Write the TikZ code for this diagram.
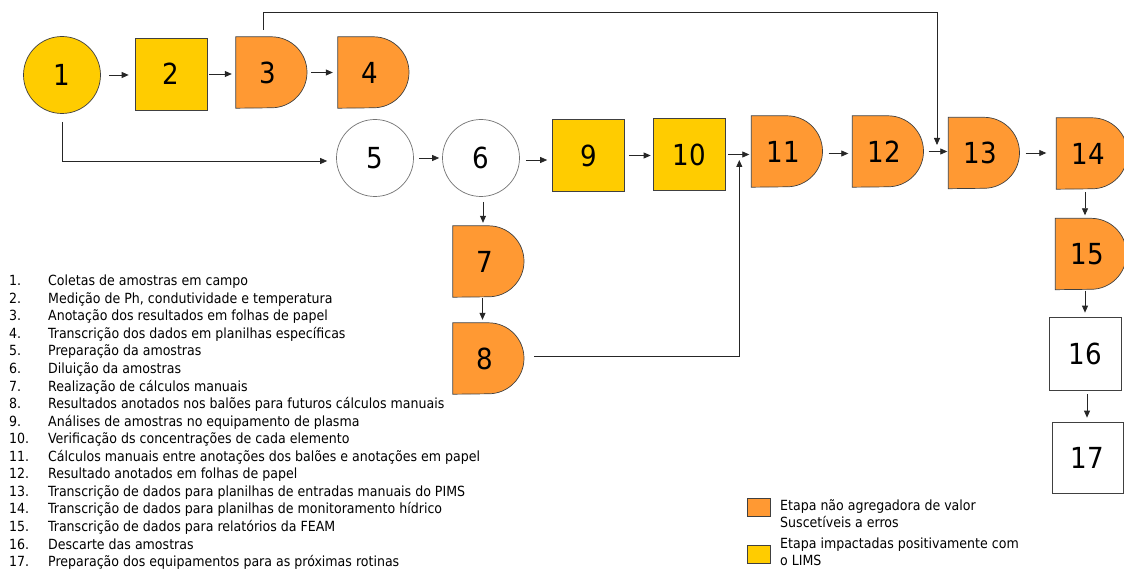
\documentclass[tikz,border=0pt]{standalone}
\usepackage{fontspec}
\setmainfont{DejaVu Sans Condensed}
\usetikzlibrary{arrows.meta,calc}
\definecolor{ylw}{HTML}{FFCC00}
\definecolor{org}{HTML}{FF9933}
\definecolor{edgec}{HTML}{404040}
\newcommand\Dnode[4]{%
  \node[dbox] (#1) at #2 {};
  \filldraw[fill=#3, draw=edgec, line width=0.7pt] (#1.north west) -- (#1.north)
     arc[start angle=90,end angle=-90,radius=35.5pt] -- (#1.south west) -- cycle;
  \node[num, xshift=-4pt] (#1-t) at (#1) {#4};
}
\begin{document}
\begin{tikzpicture}[x=1pt,y=-1pt,
  arr/.style={-{Triangle[length=7pt,width=6pt]}, line width=0.8pt, draw=black!85},
  num/.style={font=\fontsize{29}{30}\selectfont, inner sep=0pt},
  circ/.style={circle, draw=edgec, line width=0.7pt, minimum size=77pt, inner sep=0pt, num},
  sq/.style={rectangle, draw=edgec, line width=0.7pt, minimum width=72pt, minimum height=72pt, inner sep=0pt, num},
  dbox/.style={rectangle, minimum width=71pt, minimum height=71pt, inner sep=0pt},
  item/.style={anchor=west, font=\fontsize{14}{17}\selectfont, inner sep=0pt, text height=10.5pt, text depth=3pt},
  lgbox/.style={rectangle, draw=edgec, line width=0.7pt, minimum width=23pt, minimum height=18pt, inner sep=0pt}
]
\useasboundingbox (0,0) rectangle (1124,572);

% top row
\node[circ, fill=ylw] (n1) at (62,75) {1};
\node[sq, fill=ylw] (n2) at (171,74) {2};
\Dnode{n3}{(271.5,72.5)}{org}{3}
\Dnode{n4}{(373.5,72.5)}{org}{4}

% middle row
\node[circ, draw=black!55] (n5) at (375,158) {5};
\node[circ, draw=black!55] (n6) at (481,158) {6};
\node[sq, fill=ylw] (n9) at (588.5,155.5) {9};
\node[sq, fill=ylw] (n10) at (689,154.5) {10};
\Dnode{n11}{(787,151.5)}{org}{11}
\Dnode{n12}{(888,151.5)}{org}{12}
\Dnode{n13}{(984,153)}{org}{13}
\Dnode{n14}{(1092,153.5)}{org}{14}
\Dnode{n15}{(1091,254)}{org}{15}
\Dnode{n7}{(488.5,261.5)}{org}{7}
\Dnode{n8}{(488.5,358.5)}{org}{8}
\node[sq, minimum height=73pt] (n16) at (1085,353.5) {16};
\node[sq, minimum width=71pt, minimum height=71pt] (n17) at (1087.5,457.5) {17};

% arrows
\draw[arr, shorten <=8pt, shorten >=6pt] (n1.east) -- (n1.east -| n2.west);
\draw[arr, shorten <=2pt, shorten >=4pt] (n2.east) -- (n2.east -| n3.west);
\draw[arr, shorten <=4pt, shorten >=5pt] (n3.east) -- (n3.east -| n4.west);
\draw[arr, shorten <=5pt, shorten >=3pt] (n5.east) -- (n5.east -| n6.west);
\draw[arr, shorten <=6pt, shorten >=5pt] ([yshift=-2pt]n6.east) -- ([yshift=-2pt]n6.east -| n9.west);
\draw[arr, shorten <=4pt, shorten >=2pt] (n9.east) -- (n9.east -| n10.west);
\draw[arr, shorten <=3pt, shorten >=2pt] (n10.east) -- (n10.east -| n11.west);
\draw[arr, shorten <=6pt, shorten >=4pt] ([yshift=-2pt]n11.east) -- ([yshift=-2pt]n11.east -| n12.west);
\draw[arr, shorten <=5pt, shorten >=1pt] (n12.east) -- (n12.east -| n13.west);
\draw[arr, shorten <=6pt, shorten >=10pt] (n13.east) -- (n13.east -| n14.west);
\draw[arr, shorten <=3pt, shorten >=3pt] ([xshift=-7pt]n14.south) -- ([xshift=-7pt]n14.south |- n15.north);
\draw[arr, shorten <=1pt, shorten >=4pt] ([xshift=-6pt]n15.south) -- ([xshift=-6pt]n15.south |- n16.north);
\draw[arr, shorten <=4pt, shorten >=4pt] ([xshift=2pt]n16.south) -- ([xshift=2pt]n16.south |- n17.north);
\draw[arr, shorten <=5pt, shorten >=3pt] ([xshift=2pt]n6.south) -- ([xshift=2pt]n6.south |- n7.north);
\draw[arr, shorten <=1pt, shorten >=3pt] ([xshift=-6pt]n7.south) -- ([xshift=-6pt]n7.south |- n8.north);

% elbow connectors
\coordinate (topc) at (937,12);
\coordinate (in13) at (937,145);
\draw[arr] ([xshift=-8.5pt,yshift=7pt]n3.north) |- (topc) -- (in13);
\draw[arr] ([yshift=-8pt]n1.south) |- ([xshift=-9pt,yshift=-3pt]n5.west);
\draw[arr] ([xshift=10pt,yshift=2.5pt]n8.east) -| ([xshift=-12pt,yshift=-8.5pt]n11.west);

% list
\foreach \t [count=\i] in {
  {Coletas de amostras em campo},
  {Medição de Ph, condutividade e temperatura},
  {Anotação dos resultados em folhas de papel},
  {Transcrição dos dados em planilhas específicas},
  {Preparação da amostras},
  {Diluição da amostras},
  {Realização de cálculos manuais},
  {Resultados anotados nos balões para futuros cálculos manuais},
  {Análises de amostras no equipamento de plasma},
  {Verificação ds concentrações de cada elemento},
  {Cálculos manuais entre anotações dos balões e anotações em papel},
  {Resultado anotados em folhas de papel},
  {Transcrição de dados para planilhas de entradas manuais do PIMS},
  {Transcrição de dados para planilhas de monitoramento hídrico},
  {Transcrição de dados para relatórios da FEAM},
  {Descarte das amostras},
  {Preparação dos equipamentos para as próximas rotinas}} {
  \node[item] (ln\i) at (9,{282+(\i-1)*17.55}) {\i.};
  \node[item] (lt\i) at (48,{282+(\i-1)*17.55}) {\t};
}

% legend
\node[lgbox, fill=org] (lgo) at (758.5,507) {};
\node[lgbox, fill=ylw] (lgy) at (758.5,554) {};
\node[item, align=left, text height=, text depth=] (lgot) at (780,513.5) {Etapa não agregadora de valor\\Suscetíveis a erros};
\node[item, align=left, text height=, text depth=] (lgyt) at (780,551.5) {Etapa impactadas positivamente com\\o LIMS};
\end{tikzpicture}
\end{document}
